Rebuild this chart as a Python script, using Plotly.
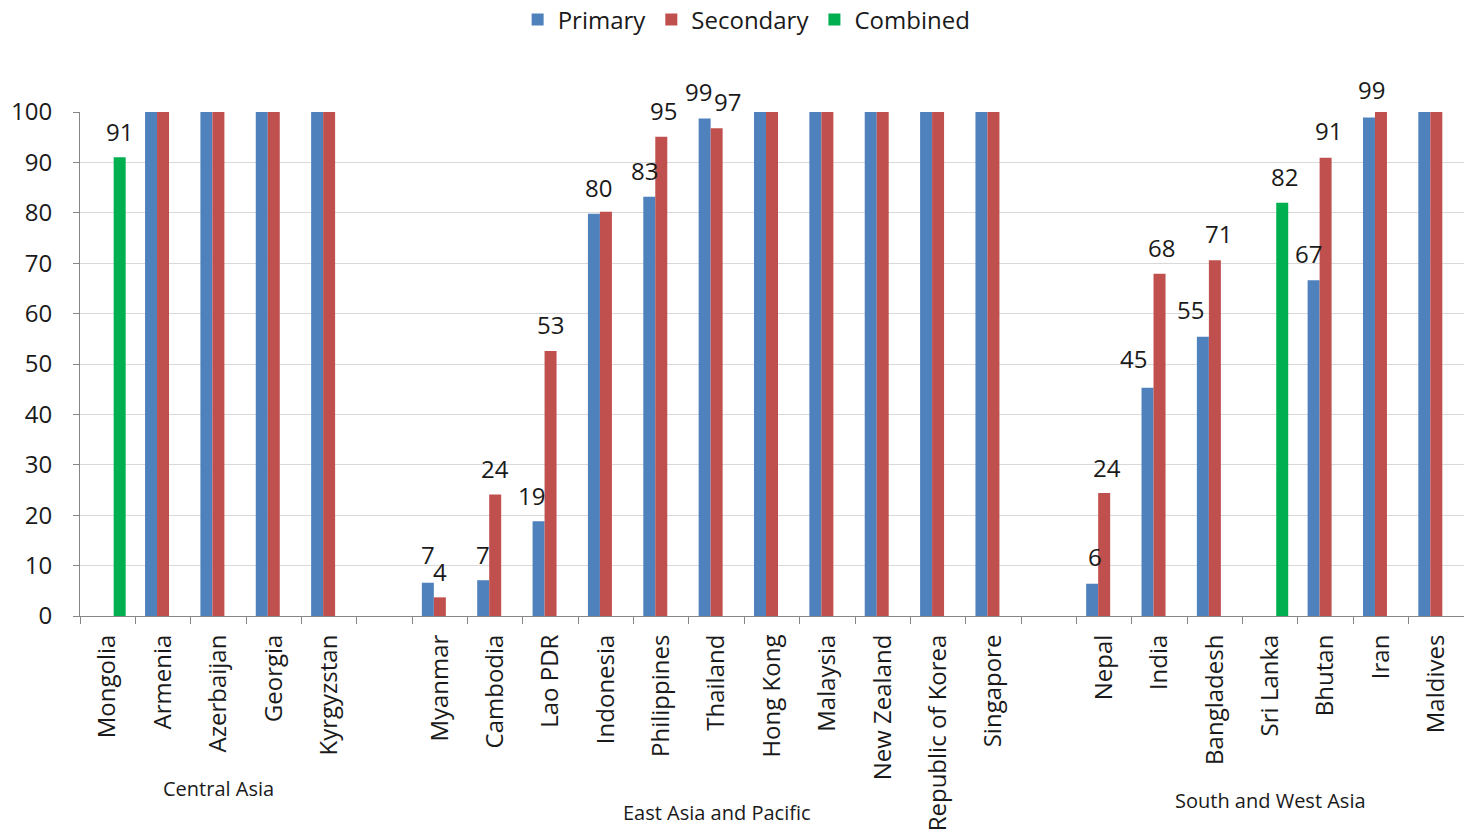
import plotly.graph_objects as go

# Countries, grouped by region; blank entries separate the regions
categories = [
    "Mongolia", "Armenia", "Azerbaijan", "Georgia", "Kyrgyzstan", " ",
    "Myanmar", "Cambodia", "Lao PDR", "Indonesia", "Philippines", "Thailand",
    "Hong Kong", "Malaysia", "New Zealand", "Republic of Korea", "Singapore", "  ",
    "Nepal", "India", "Bangladesh", "Sri Lanka", "Bhutan", "Iran", "Maldives",
]

primary = [
    None, 100, 100, 100, 100, None,
    6.6, 7.1, 18.8, 79.8, 83.2, 98.7, 100, 100, 100, 100, 100, None,
    6.4, 45.3, 55.4, None, 66.6, 98.9, 100,
]

secondary = [
    None, 100, 100, 100, 100, None,
    3.7, 24.1, 52.6, 80.2, 95.1, 96.8, 100, 100, 100, 100, 100, None,
    24.4, 67.9, 70.6, None, 90.9, 100, 100,
]

combined = [
    91, None, None, None, None, None,
    None, None, None, None, None, None, None, None, None, None, None, None,
    None, None, None, 82, None, None, None,
]

regions = ["Central Asia", "East Asia and Pacific", "South and West Asia"]
region_first = ["Mongolia", "Myanmar", "Nepal"]
region_last = ["Kyrgyzstan", "Singapore", "Maldives"]

# ---- styling ----
FONT = "Open Sans"
TXT = "#1a1a1a"
AXIS = "#868686"
GRID = "#D9D9D9"
series = [
    ("Primary", primary, "#4F81BD", -12),
    ("Secondary", secondary, "#C0504D", 0),
    ("Combined", combined, "#00B050", 12),
]

fig = go.Figure()
for name, vals, color, _ in series:
    fig.add_trace(go.Bar(
        name=name, x=categories, y=vals,
        marker=dict(color=color, line=dict(width=0)),
    ))

# value labels above bars below 100; small nudges keep neighbours apart
nudge = {
    ("Primary", "Lao PDR"): (-7, 0),
    ("Primary", "Indonesia"): (5, 0),
    ("Primary", "Philippines"): (-5, 0),
    ("Secondary", "Philippines"): (2, 0),
    ("Primary", "Thailand"): (-6, 1),
    ("Secondary", "Thailand"): (11, 1),
    ("Primary", "Nepal"): (3, 1),
    ("Secondary", "Nepal"): (3, 0),
    ("Primary", "India"): (-14, 3),
    ("Secondary", "India"): (2, 0),
    ("Primary", "Bangladesh"): (-12, 1),
    ("Secondary", "Bangladesh"): (4, 1),
    ("Combined", "Sri Lanka"): (2, 0),
    ("Primary", "Bhutan"): (-5, 1),
    ("Secondary", "Bhutan"): (3, 1),
    ("Primary", "Iran"): (3, 2),
    ("Primary", "Myanmar"): (0, 2),
}
# Indonesia's two bars share one label
unlabeled = {("Secondary", "Indonesia")}

annotations = []
for name, vals, color, offset in series:
    for cat, v in zip(categories, vals):
        if v is None or v >= 99.95 or (name, cat) in unlabeled:
            continue
        dx, dy = nudge.get((name, cat), (0, 0))
        annotations.append(dict(
            x=cat, y=v, xref="x", yref="y", text=f"{v:.0f}",
            showarrow=False, xshift=offset + dx, yshift=26 + dy,
            yanchor="middle", xanchor="center",
            font=dict(family=FONT, size=24, color=TXT),
        ))

# region captions under the country names
region_y = [-0.343, -0.389, -0.367]
for reg, a, b, yy in zip(regions, region_first, region_last, region_y):
    i0, i1 = categories.index(a), categories.index(b)
    annotations.append(dict(
        x=(i0 + i1) / 2, y=yy, xref="x", yref="paper", text=reg,
        showarrow=False, xanchor="center", yanchor="middle",
        font=dict(family=FONT, size=20, color=TXT),
    ))

fig.update_layout(
    width=1464, height=832,
    margin=dict(l=80, r=0, t=112, b=216),
    paper_bgcolor="white", plot_bgcolor="white",
    barmode="group", bargap=0.35, bargroupgap=0,
    font=dict(family=FONT, size=24, color=TXT),
    showlegend=True,
    legend=dict(
        orientation="h", xref="container", yref="container",
        x=0.51, y=1 - 20 / 832, xanchor="center", yanchor="middle",
        font=dict(family=FONT, size=24, color=TXT),
        itemwidth=30, traceorder="normal",
    ),
    annotations=annotations,
)

fig.update_xaxes(
    type="category", categoryorder="array", categoryarray=categories,
    tickangle=-90, tickson="boundaries", ticks="outside", ticklen=7,
    tickcolor=AXIS, showline=True, linecolor=AXIS, linewidth=1,
    showgrid=False, tickfont=dict(family=FONT, size=24, color=TXT),
    ticklabelstandoff=8,
)
fig.update_yaxes(
    range=[0, 100], dtick=10, ticks="outside", ticklen=6, tickcolor=AXIS,
    showline=True, linecolor=AXIS, linewidth=1,
    showgrid=True, gridcolor=GRID, gridwidth=1, zeroline=False,
    tickfont=dict(family=FONT, size=24, color=TXT),
    ticklabelstandoff=16,
)

fig.write_html("out.html")
